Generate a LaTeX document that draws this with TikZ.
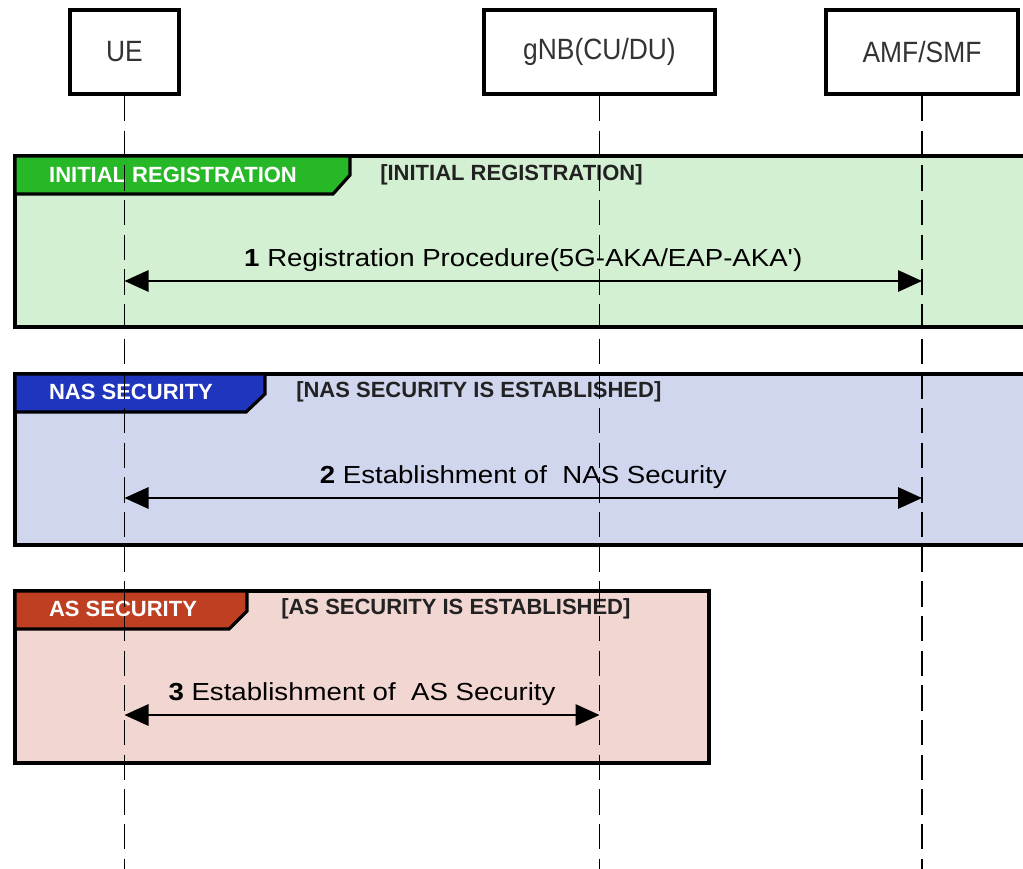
\documentclass[tikz,border=0pt]{standalone}
\usepackage{fontspec}
\setmainfont{Liberation Sans}
\newfontfamily\partfont[FakeStretch=0.9]{Liberation Sans}
\newfontfamily\msgfont[FakeStretch=1.12]{Liberation Sans}
\usetikzlibrary{arrows.meta}

\definecolor{greenbg}{HTML}{D4F0D3}
\definecolor{greentab}{HTML}{27B827}
\definecolor{bluebg}{HTML}{D1D6EF}
\definecolor{bluetab}{HTML}{2035BE}
\definecolor{redbg}{HTML}{F2D6D2}
\definecolor{redtab}{HTML}{BF3F22}
\definecolor{parttext}{HTML}{333333}
\definecolor{titletext}{HTML}{222222}

\tikzset{
  participant/.style={draw=black, line width=3pt, fill=white, inner sep=0pt,
    font=\partfont\fontsize{22pt}{24pt}\selectfont, text=parttext},
  lifeline/.style={black, line width=1.4pt, dash pattern=on 19pt off 7pt},
  frame/.style={draw=black, line width=2.4pt},
  tab/.style={draw=black, line width=2.4pt, line join=miter},
  tablabel/.style={text=white, font=\bfseries\fontsize{16.5pt}{18pt}\selectfont, inner sep=0pt},
  framelabel/.style={text=titletext, font=\bfseries\fontsize{16.5pt}{18pt}\selectfont, inner sep=0pt, anchor=west},
  msg/.style={black, line width=1.5pt, {Triangle[length=18pt,width=16pt]}-{Triangle[length=18pt,width=16pt]}},
  msglabel/.style={font=\msgfont\fontsize{18.5pt}{20pt}\selectfont, text=black, inner sep=0pt}
}

\begin{document}
\begin{tikzpicture}[x=0.75pt, y=-0.75pt]
\useasboundingbox (0,0) rectangle (1023,868);
\clip (0,0) rectangle (1023,868);

% participants
\node[participant, minimum width=109*0.75pt, minimum height=84*0.75pt] (ue) at (124.5,52) {\raisebox{-1.5pt}{UE}};
\node[participant, minimum width=231*0.75pt, minimum height=84*0.75pt] (gnb) at (599.5,52) {\raisebox{-1.5pt}{gNB(CU/DU)}};
\node[participant, minimum width=192*0.75pt, minimum height=84*0.75pt] (amf) at (922,52) {\raisebox{-1.5pt}{AMF/SMF}};

% combined fragments
\draw[frame, fill=greenbg] (15,156) rectangle (1040,327);
\filldraw[tab, fill=greentab] (15,156) -- (350,156) -- (350,175) -- (333,194) -- (15,194) -- cycle;
\node[tablabel] (irtab) at (173,175) {INITIAL REGISTRATION};
\node[framelabel] (irtitle) at (380,175) {[INITIAL REGISTRATION]};

\draw[frame, fill=bluebg] (15,374) rectangle (1040,545);
\filldraw[tab, fill=bluetab] (15,374) -- (265,374) -- (265,394) -- (246,412) -- (15,412) -- cycle;
\node[tablabel] (nastab) at (131,392) {NAS SECURITY};
\node[framelabel] (nastitle) at (296,392) {[NAS SECURITY IS ESTABLISHED]};

\draw[frame, fill=redbg] (15,591) rectangle (709,763);
\filldraw[tab, fill=redtab] (15,591) -- (247,591) -- (247,611) -- (229,629) -- (15,629) -- cycle;
\node[tablabel] (astab) at (123,609) {AS SECURITY};
\node[framelabel] (astitle) at (281,609) {[AS SECURITY IS ESTABLISHED]};

% lifelines
\coordinate (bottom) at (0,875);
\draw[lifeline] (ue.south) -- (ue.south |- bottom);
\draw[lifeline] (gnb.south) -- (gnb.south |- bottom);
\draw[lifeline] (amf.south) -- (amf.south |- bottom);

% message end points on the lifelines
\coordinate (m1a) at (124.5,281);
\coordinate (m1b) at (922,281);
\coordinate (m2a) at (124.5,498);
\coordinate (m2b) at (922,498);
\coordinate (m3a) at (124.5,715);
\coordinate (m3b) at (599.5,715);

% messages
\draw[msg] (m1a) -- node[msglabel, above=6pt] (l1) {\textbf{1} Registration Procedure(5G-AKA/EAP-AKA')} (m1b);
\draw[msg] (m2a) -- node[msglabel, above=6pt] (l2) {\textbf{2} Establishment of\ \ NAS Security} (m2b);
\draw[msg] (m3a) -- node[msglabel, above=6pt] (l3) {\textbf{3} Establishment of\ \ AS Security} (m3b);
\end{tikzpicture}
\end{document}
